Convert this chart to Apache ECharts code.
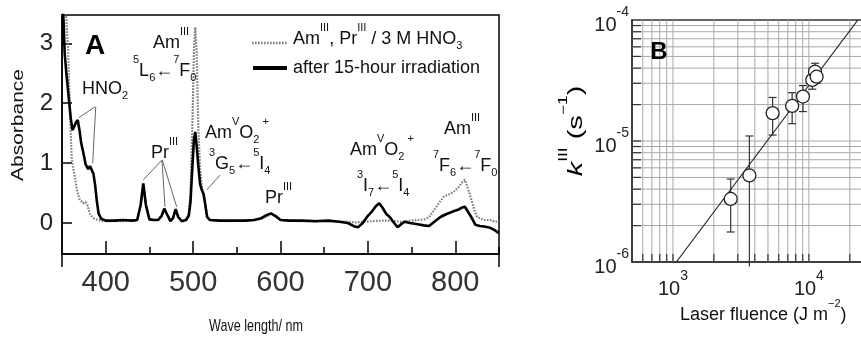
<!DOCTYPE html>
<html><head><meta charset="utf-8">
<script src="https://cdn.jsdelivr.net/npm/echarts@6/dist/echarts.min.js"></script>
<style>html,body{margin:0;padding:0;background:#fff}#c{width:861px;height:338px}</style>
</head><body><div id="c"></div>
<script>
// ---------- Panel A : absorption spectra ----------
const wlBefore = [351,353,355,357,359,361,363,365,367,370,374,377,379,382,386,391,400,420,436,440,443,446,450,460,464,467,470,474,477,480,483,487,492,495,497,499,501,502.5,504,506,508,510,513,516,520,540,560,575,583,589,595,601,620,640,660,677,687,695,705,715,725,738,750,757,765,770,776,782,787,793,798,804,808,811,815,819,822,825,833,840,846,850];
const absBefore = [4.0,3.6,3.4,2.9,1.9,1.1,0.9,0.75,0.55,0.4,0.33,0.35,0.3,0.15,0.08,0.05,0.03,0.03,0.04,0.3,0.63,0.3,0.06,0.05,0.12,0.23,0.15,0.04,0.08,0.22,0.1,0.04,0.06,0.15,0.5,1.5,2.9,3.27,2.9,1.6,0.9,0.6,0.4,0.12,0.05,0.03,0.04,0.06,0.1,0.15,0.1,0.05,0.03,0.04,0.03,0.02,0.01,0.02,0.03,0.04,0.04,0.02,0.04,0.05,0.06,0.1,0.22,0.35,0.44,0.48,0.52,0.6,0.68,0.72,0.55,0.36,0.2,0.1,0.05,0.05,0.02,0.03];
const wlAfter = [351,352,353,355,357,360,362,364,366,368,370,372,374,377,380,382,384,386,388,390,392,395,400,410,420,430,436,440,443,446,450,455,460,464,467,470,474,477,480,483,487,492,495,497,499,501,502.5,504,506,508,510,512,514,516,519,530,545,560,570,578,584,589,594,600,610,625,640,655,667,677,685,689,694,700,705,709,713,717,721,725,730,734,738,742,748,757,764,770,776,783,790,797,803,808,811,814,817,820,823,828,833,840,845,850];
const absAfter = [3.6,3.3,2.85,2.5,2.2,1.75,1.55,1.55,1.68,1.72,1.55,1.33,1.2,0.98,0.9,0.95,0.95,0.82,0.62,0.35,0.15,0.07,0.04,0.04,0.05,0.04,0.05,0.3,0.66,0.3,0.06,0.05,0.05,0.12,0.24,0.15,0.03,0.08,0.23,0.1,0.03,0.05,0.12,0.35,0.9,1.4,1.52,1.3,0.95,0.65,0.55,0.48,0.3,0.1,0.05,0.04,0.04,0.04,0.05,0.08,0.13,0.16,0.12,0.05,0.04,0.04,0.03,0.04,0.02,0.0,-0.06,-0.07,0.0,0.12,0.2,0.28,0.33,0.25,0.15,0.1,0.0,-0.07,-0.02,0.02,0.0,-0.02,-0.04,-0.05,0.02,0.1,0.15,0.19,0.22,0.26,0.27,0.2,0.13,0.05,-0.03,-0.05,-0.06,-0.08,-0.12,-0.17];
const xTicksA = [400,500,600,700,800];
const xMinorTicksA = [450,550,650,750,850];
const yTicksA = [0,1,2,3];

// ---------- Panel B : rate constant vs laser fluence ----------
const fluence = [2660,3650,5410,7530,9040,10600,11100,11400];
const kIII    = [3.32e-6,5.19e-6,1.70e-5,1.95e-5,2.33e-5,3.2e-5,3.74e-5,3.4e-5];
const kHigh   = [4.85e-6,1.10e-5,2.29e-5,2.51e-5,2.87e-5,3.99e-5,4.39e-5,3.99e-5];
const kLow    = [1.77e-6,9.2e-7,1.12e-5,1.39e-5,1.75e-5,2.68e-5,3.0e-5,3.0e-5];
const fitFluence = [1060,22900];
const fitK = [1e-6,1e-4];
const gridX = [600,700,800,900,1000,2000,3000,4000,5000,6000,7000,8000,9000,10000,20000];
const gridY = [2e-6,3e-6,4e-6,5e-6,6e-6,7e-6,8e-6,9e-6,1e-5,2e-5,3e-5,4e-5,5e-5,6e-5,7e-5,8e-5,9e-5];

const F = "'Liberation Sans', Arial, sans-serif";
const pairs = (xs, ys) => xs.map((x, i) => [x, ys[i]]);
const RT = {
  n: {fontSize: 18, fontFamily: F, color: '#111', verticalAlign: 'top', padding: [8,0,0,0]},
  i: {fontSize: 18, fontFamily: F, fontStyle: 'italic', color: '#111', verticalAlign: 'top', padding: [8,0,0,0]},
  p: {fontSize: 11, fontFamily: F, color: '#111', verticalAlign: 'top', padding: [0,0,0,0]},
  b: {fontSize: 11, fontFamily: F, color: '#111', verticalAlign: 'top', padding: [18,0,0,0]}
};
const RT2 = {
  n: {fontSize: 20, fontFamily: F, color: '#111', verticalAlign: 'top', padding: [9,0,0,0]},
  i: {fontSize: 20, fontFamily: F, fontStyle: 'italic', color: '#111', verticalAlign: 'top', padding: [9,0,0,0]},
  p: {fontSize: 12, fontFamily: F, color: '#111', verticalAlign: 'top', padding: [0,0,0,0]}
};
const ARW = '\u2190';
const logLabel = v => {
  const e = Math.log10(v), r = Math.round(e);
  if (Math.abs(e - r) > 1e-6) return '';
  return '{b|10}{s|' + r + '}';
};
const logRich = {
  b: {fontSize: 20, fontFamily: F, color: '#222', verticalAlign: 'top', padding: [10,0,0,0]},
  s: {fontSize: 14, fontFamily: F, color: '#222', verticalAlign: 'top'}
};

const chart = echarts.init(document.getElementById('c'));
const axisLineA = {onZero: false, lineStyle: {color: '#000', width: 1.5}};

chart.setOption({
  animation: false,
  backgroundColor: '#fff',
  grid: [
    {left: 62, top: 15, width: 437, height: 239, show: true, borderColor: '#000', borderWidth: 1.5, outerBoundsMode: 'none', containLabel: false},
    {left: 632, top: 20, width: 231, height: 242, show: true, borderColor: '#333', borderWidth: 1.5, outerBoundsMode: 'none', containLabel: false}
  ],
  xAxis: [
    {gridIndex: 0, type: 'value', min: 350, max: 850, axisLine: axisLineA, splitLine: {show: false},
     axisTick: {inside: true, length: 13, customValues: xTicksA, lineStyle: {color: '#000', width: 1.5}},
     axisLabel: {customValues: xTicksA, margin: 14, fontSize: 29, fontFamily: F, color: '#333'}},
    {gridIndex: 0, type: 'value', min: 350, max: 850, position: 'bottom', axisLine: {show: false, onZero: false}, splitLine: {show: false},
     axisTick: {inside: true, length: 7, customValues: xMinorTicksA, lineStyle: {color: '#000', width: 1.5}},
     axisLabel: {show: false}},
    {gridIndex: 1, type: 'log', logBase: 10, min: 500, max: 25000, axisLine: {onZero: false, lineStyle: {color: '#333', width: 1.5}},
     splitLine: {show: false}, axisTick: {show: false},
     axisLabel: {formatter: logLabel, rich: logRich, margin: 7, showMinLabel: false, showMaxLabel: false}}
  ],
  yAxis: [
    {gridIndex: 0, type: 'value', min: -0.518, max: 3.473, axisLine: axisLineA, splitLine: {show: false},
     axisTick: {inside: true, length: 10, customValues: yTicksA, lineStyle: {color: '#000', width: 1.5}},
     axisLabel: {customValues: yTicksA, margin: 9, fontSize: 24, fontFamily: F, color: '#222'}},
    {gridIndex: 1, type: 'log', logBase: 10, min: 1e-6, max: 1e-4, axisLine: {onZero: false, lineStyle: {color: '#333', width: 1.5}},
     splitLine: {show: false}, axisTick: {show: false},
     axisLabel: {formatter: logLabel, rich: logRich, margin: 3}}
  ],
  series: [
    {type: 'line', xAxisIndex: 0, yAxisIndex: 0, data: pairs(wlBefore, absBefore), showSymbol: false, symbol: 'none',
     lineStyle: {color: '#7e7e7e', width: 2.2, type: [1.6, 1.4]}, z: 2},
    {type: 'line', xAxisIndex: 0, yAxisIndex: 0, data: pairs(wlAfter, absAfter), showSymbol: false, symbol: 'none',
     lineStyle: {color: '#000', width: 2.6}, z: 3},
    // panel B grid lines + inner ticks
    {type: 'custom', xAxisIndex: 2, yAxisIndex: 1, silent: true, z: 1, data: gridX.map(v => [v, 1e-5]),
     renderItem: (params, api) => {
       const cs = params.coordSys; const x = api.coord([api.value(0), api.value(1)])[0];
       const bot = cs.y + cs.height;
       return {type: 'group', children: [
         {type: 'line', shape: {x1: x, y1: cs.y, x2: x, y2: bot}, style: {stroke: '#a8a8a8', lineWidth: 1}},
         {type: 'line', shape: {x1: x, y1: bot, x2: x, y2: bot - 8}, style: {stroke: '#333', lineWidth: 1.2}}
       ]};
     }},
    {type: 'custom', xAxisIndex: 2, yAxisIndex: 1, silent: true, z: 1, data: gridY.map(v => [1000, v]),
     renderItem: (params, api) => {
       const cs = params.coordSys; const y = api.coord([api.value(0), api.value(1)])[1];
       return {type: 'group', children: [
         {type: 'line', shape: {x1: cs.x, y1: y, x2: cs.x + cs.width, y2: y}, style: {stroke: '#a8a8a8', lineWidth: 1}},
         {type: 'line', shape: {x1: cs.x, y1: y, x2: cs.x + 9, y2: y}, style: {stroke: '#333', lineWidth: 1.2}}
       ]};
     }},
    // error bars
    {type: 'custom', xAxisIndex: 2, yAxisIndex: 1, silent: true, z: 3,
     data: fluence.map((f, i) => [f, kLow[i], kHigh[i]]),
     renderItem: (params, api) => {
       const cs = params.coordSys;
       const lo = api.coord([api.value(0), api.value(1)]);
       const hi = api.coord([api.value(0), api.value(2)]);
       const st = {stroke: '#333', lineWidth: 1.2};
       const ch = [
         {type: 'line', shape: {x1: lo[0], y1: lo[1], x2: hi[0], y2: hi[1]}, style: st},
         {type: 'line', shape: {x1: hi[0] - 4, y1: hi[1], x2: hi[0] + 4, y2: hi[1]}, style: st}
       ];
       if (lo[1] <= cs.y + cs.height) ch.push({type: 'line', shape: {x1: lo[0] - 4, y1: lo[1], x2: lo[0] + 4, y2: lo[1]}, style: st});
       return {type: 'group', children: ch};
     }},
    {type: 'line', xAxisIndex: 2, yAxisIndex: 1, data: pairs(fitFluence, fitK), showSymbol: false, symbol: 'none',
     lineStyle: {color: '#222', width: 1.2}, z: 4},
    {type: 'scatter', xAxisIndex: 2, yAxisIndex: 1, data: pairs(fluence, kIII), symbol: 'circle', symbolSize: 13,
     itemStyle: {color: '#fff', borderColor: '#222', borderWidth: 1.3, opacity: 1}, z: 5}
  ]
});

// ---------- annotations ----------
const P = (nm, a) => chart.convertToPixel({xAxisIndex: 0, yAxisIndex: 0}, [nm, a]);
const leader = (a, b) => {
  const p1 = P(a[0], a[1]), p2 = P(b[0], b[1]);
  return {type: 'line', silent: true, shape: {x1: p1[0], y1: p1[1], x2: p2[0], y2: p2[1]}, style: {stroke: '#555', lineWidth: 0.9}, z: 10};
};
const txt = (x, y, text, extra) => Object.assign({type: 'text', x: x, y: y, silent: true, z: 10,
  style: {text: text, rich: RT, fill: '#111', textAlign: 'left', textVerticalAlign: 'top'}}, extra || {});

const gridRectA = chart.getModel().getComponent('grid', 0).coordinateSystem.getRect();

const graphics = [
  // panel letters
  {type: 'text', x: 95, y: 46, z: 10, style: {text: 'A', font: "bold 28px 'Liberation Sans', Arial, sans-serif", fill: '#000', textAlign: 'center', textVerticalAlign: 'middle'}},
  {type: 'text', x: 659, y: 52, z: 10, style: {text: 'B', font: "bold 24px 'Liberation Sans', Arial, sans-serif", fill: '#000', textAlign: 'center', textVerticalAlign: 'middle'}},
  // frame extensions below axis A
  {type: 'line', shape: {x1: gridRectA.x, y1: gridRectA.y + gridRectA.height, x2: gridRectA.x, y2: gridRectA.y + gridRectA.height + 13}, style: {stroke: '#000', lineWidth: 1.5}},
  {type: 'line', shape: {x1: gridRectA.x + gridRectA.width, y1: gridRectA.y + gridRectA.height, x2: gridRectA.x + gridRectA.width, y2: gridRectA.y + gridRectA.height + 13}, style: {stroke: '#000', lineWidth: 1.5}},
  // axis titles
  {type: 'text', x: 19, y: 125, rotation: Math.PI / 2, scaleY: 0.75, z: 10,
   style: {text: 'Absorbance', font: "21px 'Liberation Sans', Arial, sans-serif", fill: '#111', textAlign: 'center', textVerticalAlign: 'middle'}},
  {type: 'text', x: 256, y: 326, scaleX: 0.74, z: 10,
   style: {text: 'Wave length/ nm', font: "17px 'Liberation Sans', Arial, sans-serif", fill: '#111', textAlign: 'center', textVerticalAlign: 'middle'}},
  {type: 'text', x: 572, y: 131, rotation: Math.PI / 2, scaleX: 1.45, z: 10,
   style: {text: '{i|k}{p|III}{n| (s}{p|\u22121}{n|)}', rich: RT2, textAlign: 'center', textVerticalAlign: 'middle'}},
  txt(680, 298.5, '{n|Laser fluence (J m}{p|\u22122}{n|)}'),
  // legend
  {type: 'line', shape: {x1: 252, y1: 43, x2: 287, y2: 43}, style: {stroke: '#7e7e7e', lineWidth: 2.5, lineDash: [1.6, 1.4]}},
  {type: 'line', shape: {x1: 253, y1: 68, x2: 287, y2: 68}, style: {stroke: '#000', lineWidth: 4}},
  txt(293, 22.5, '{n|Am}{p|III}{n|, Pr}{p|III}{n| / 3 M HNO}{b|3}'),
  txt(293, 51.5, '{n|after 15-hour irradiation}'),
  // peak labels
  txt(153, 26.5, '{n|Am}{p|III}'),
  txt(133, 54.5, '{p|5}{n|L}{b|6}{n|' + ARW + '}{p|7}{n|F}{b|0}'),
  txt(82, 72.5, '{n|HNO}{b|2}'),
  txt(151, 136.5, '{n|Pr}{p|III}'),
  txt(205, 116.5, '{n|Am}{p|V}{n|O}{b|2}{p| +}'),
  txt(209, 147.5, '{p|3}{n|G}{b|5}{n|' + ARW + '}{p|5}{n|I}{b|4}'),
  txt(265, 181, '{n|Pr}{p|III}'),
  txt(350, 133.5, '{n|Am}{p|V}{n|O}{b|2}{p| +}'),
  txt(357, 169.5, '{p|3}{n|I}{b|7}{n|' + ARW + '}{p|5}{n|I}{b|4}'),
  txt(444, 112.5, '{n|Am}{p|III}'),
  txt(433, 149.5, '{p|7}{n|F}{b|6}{n|' + ARW + '}{p|7}{n|F}{b|0}'),
  // leader lines (data coordinates)
  leader([387.8, 1.94], [369.5, 1.76]),
  leader([388.6, 1.94], [385.1, 1.0]),
  leader([464.4, 1.05], [443.0, 0.72]),
  leader([464.4, 1.05], [467.8, 0.27]),
  leader([464.8, 1.05], [481.2, 0.27]),
  leader([530.8, 0.80], [515.6, 0.55])
];
chart.setOption({graphic: graphics});
</script>
</body></html>
